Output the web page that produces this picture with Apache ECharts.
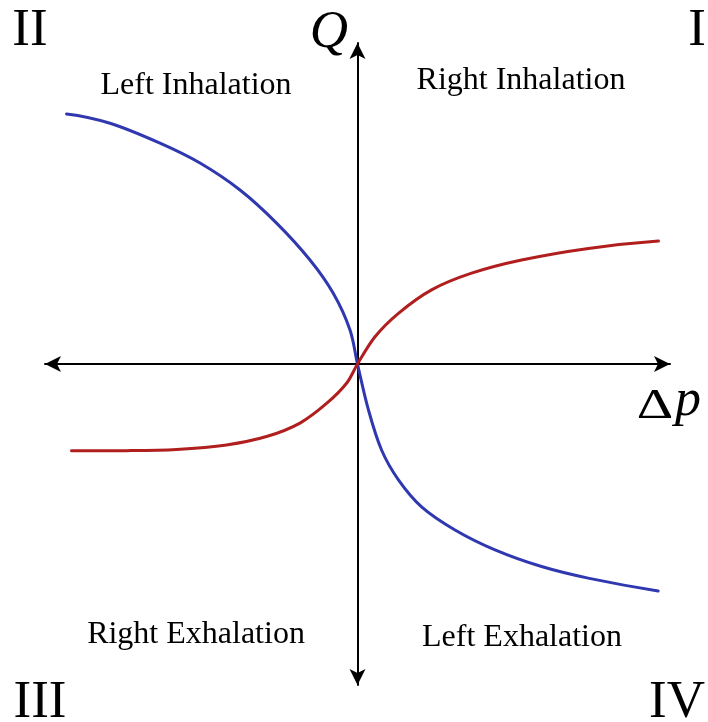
<!DOCTYPE html>
<html>
<head>
<meta charset="utf-8">
<script src="https://cdn.jsdelivr.net/npm/echarts@6/dist/echarts.min.js"></script>
<style>
  html, body { margin: 0; padding: 0; background: #fff; }
  #chart { width: 708px; height: 722px; }
</style>
</head>
<body>
<div id="chart"></div>
<script>
// Flow Q against pressure difference Δp, normalised to [-1, 1] on both axes.
const leftLung = [
  [-0.931, 0.779], [-0.792, 0.750], [-0.632, 0.688], [-0.504, 0.626],
  [-0.376, 0.542], [-0.259, 0.439], [-0.152, 0.324], [-0.078, 0.221],
  [-0.024, 0.106], [0, 0], [0.035, -0.143], [0.077, -0.268],
  [0.131, -0.361], [0.205, -0.445], [0.312, -0.517], [0.440, -0.579],
  [0.589, -0.631], [0.738, -0.667], [0.962, -0.707]
];
const rightLung = [
  [-0.915, -0.270], [-0.739, -0.270], [-0.579, -0.266], [-0.419, -0.252],
  [-0.291, -0.226], [-0.184, -0.184], [-0.099, -0.123], [-0.035, -0.060],
  [0, 0], [0.056, 0.085], [0.131, 0.158], [0.237, 0.231],
  [0.365, 0.283], [0.525, 0.324], [0.739, 0.360], [0.963, 0.383]
];
const quadrantNames = ['I', 'II', 'III', 'IV'];
const regionNames = ['Right Inhalation', 'Left Inhalation', 'Right Exhalation', 'Left Exhalation'];

const serif = "'Liberation Serif', 'Times New Roman', serif";

const chart = echarts.init(document.getElementById('chart'), null, { renderer: 'canvas' });

function axisCommon() {
  return {
    type: 'value', min: -1, max: 1,
    axisLine: {
      show: true, onZero: true,
      symbol: ['arrow', 'arrow'], symbolSize: [12, 16],
      lineStyle: { color: '#000', width: 2 }
    },
    axisTick: { show: false }, axisLabel: { show: false }, splitLine: { show: false }
  };
}

// Smooth curve through every data point: cubic Hermite segments with
// chord-length tangents, positioned by the grid's own coordinate system.
function curveSeries(points, color) {
  return {
    type: 'custom',
    data: points,
    z: 3,
    renderItem: function (params, api) {
      if (params.dataIndex !== 0) return null;
      const p = points.map(function (d) { return api.coord(d); });
      const n = p.length;
      const seg = [];
      for (let i = 0; i < n - 1; i++) {
        seg.push(Math.hypot(p[i + 1][0] - p[i][0], p[i + 1][1] - p[i][1]));
      }
      const tan = p.map(function (pt, i) {
        if (i === 0 || i === n - 1) return null;
        const L = seg[i - 1] + seg[i];
        return [(p[i + 1][0] - p[i - 1][0]) / L, (p[i + 1][1] - p[i - 1][1]) / L];
      });
      // free ends: mirror the neighbouring tangent about the end chord
      tan[0] = [2 * (p[1][0] - p[0][0]) / seg[0] - tan[1][0], 2 * (p[1][1] - p[0][1]) / seg[0] - tan[1][1]];
      const k = n - 1;
      tan[k] = [2 * (p[k][0] - p[k - 1][0]) / seg[k - 1] - tan[k - 1][0], 2 * (p[k][1] - p[k - 1][1]) / seg[k - 1] - tan[k - 1][1]];
      let d = 'M' + p[0][0] + ' ' + p[0][1];
      for (let i = 0; i < n - 1; i++) {
        const h = seg[i] / 3;
        d += ' C' + (p[i][0] + tan[i][0] * h) + ' ' + (p[i][1] + tan[i][1] * h) + ' ' +
          (p[i + 1][0] - tan[i + 1][0] * h) + ' ' + (p[i + 1][1] - tan[i + 1][1] * h) + ' ' +
          p[i + 1][0] + ' ' + p[i + 1][1];
      }
      return {
        type: 'path',
        shape: { pathData: d },
        style: { fill: 'none', stroke: color, lineWidth: 3, lineCap: 'round', lineJoin: 'round' }
      };
    }
  };
}

function txt(text, x, y, font, extra) {
  return Object.assign({
    type: 'text', x: x, y: y, z: 10,
    style: { text: text, font: font, fill: '#000', align: 'center', verticalAlign: 'middle' }
  }, extra || {});
}

const big = '53px ' + serif;
const label = '32px ' + serif;

chart.setOption({
  animation: false,
  backgroundColor: '#fff',
  grid: { left: 45, right: 38, top: 43, bottom: 37 },
  xAxis: axisCommon(),
  yAxis: axisCommon(),
  series: [
    curveSeries(leftLung, '#3038b0'),
    curveSeries(rightLung, '#b01e1e')
  ],
  graphic: [
    txt(quadrantNames[0], 697, 31, big),
    txt(quadrantNames[1], 30, 31, big),
    txt(quadrantNames[2], 40, 703, big),
    txt(quadrantNames[3], 677, 703, big),
    txt(regionNames[0], 521, 81, label),
    txt(regionNames[1], 196, 86, label),
    txt(regionNames[2], 196, 635, label),
    txt(regionNames[3], 522, 638, label),
    txt('Q', 329, 33, 'italic 53px ' + serif),
    txt('Δ', 655, 407, '42px ' + serif, { scaleX: 1.35 }),
    txt('p', 688, 401, 'italic 52px ' + serif)
  ]
});
</script>
</body>
</html>
